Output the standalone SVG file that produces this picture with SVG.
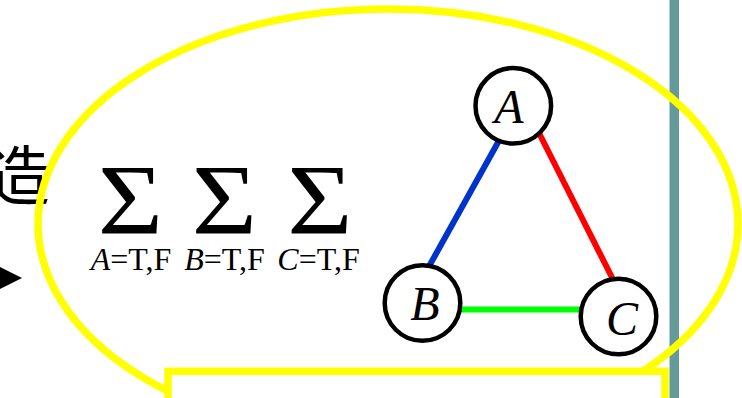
<svg xmlns="http://www.w3.org/2000/svg" width="742" height="398" viewBox="0 0 742 398">
  <style>
    .serif { font-family: "Liberation Serif", "Times New Roman", serif; fill: #000; }
    .it { font-style: italic; }
    .node circle { fill: #fff; stroke: #000; stroke-width: 4.5; }
    .node text { font-family: "Liberation Serif", "Times New Roman", serif; font-style: italic; font-size: 48px; text-anchor: middle; }
    .edge { stroke-width: 6; fill: none; }
    .sum { font-size: 92px; text-anchor: middle; }
    .sub { font-size: 32px; text-anchor: middle; }
  </style>
  <rect x="0" y="0" width="742" height="398" fill="#fff"/>

  <!-- left clipped text -->
  <text x="50" y="199" font-family="'Noto Sans CJK JP', 'Noto Sans CJK SC', sans-serif" font-size="64" text-anchor="end" fill="#000">造</text>
  <polygon points="-2,266 22,278 -2,290" fill="#000"/>

  <!-- vertical bar -->
  <rect id="bar" x="669.5" y="0" width="9.5" height="398" fill="#669999"/>

  <!-- callout ellipse -->
  <g id="callout">
    <ellipse cx="388" cy="224" rx="350" ry="215" fill="none" stroke="#FFFF00" stroke-width="7.5"/>
    <rect x="168" y="371.3" width="497" height="60" fill="#fff" stroke="#FFFF00" stroke-width="7.5"/>
  </g>

  <!-- sums -->
  <g id="sums" class="serif">
    <text class="sum" transform="translate(130.5,233) scale(1.22,1.09)">Σ</text>
    <text class="sum" transform="translate(224.5,233) scale(1.22,1.09)">Σ</text>
    <text class="sum" transform="translate(320,233) scale(1.22,1.09)">Σ</text>
    <text class="sub" x="131" y="270"><tspan class="it">A</tspan>=T,F</text>
    <text class="sub" x="224.5" y="270"><tspan class="it">B</tspan>=T,F</text>
    <text class="sub" x="318.5" y="270"><tspan class="it">C</tspan>=T,F</text>
  </g>

  <!-- connectors -->
  <g id="connectors">
    <line class="edge" x1="501" y1="137" x2="427" y2="270" stroke="#0033CC"/>
    <line class="edge" x1="537.5" y1="130" x2="615.8" y2="285" stroke="#FF0000"/>
    <line class="edge" x1="455" y1="309.5" x2="590" y2="309.5" stroke="#00FF00"/>
  </g>

  <g id="nodeA" class="node">
    <circle cx="513.3" cy="105.8" r="37.8"/>
    <text x="509" y="123">A</text>
  </g>
  <g id="nodeB" class="node">
    <circle cx="422.5" cy="303" r="37.8"/>
    <text x="425" y="320">B</text>
  </g>
  <g id="nodeC" class="node">
    <circle cx="618.5" cy="316.5" r="37.8"/>
    <text x="622" y="335">C</text>
  </g>
</svg>
